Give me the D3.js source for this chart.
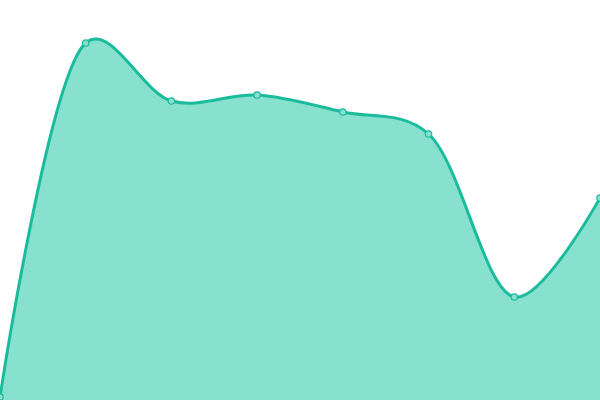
<!DOCTYPE html>
<html>
<head>
<meta charset="utf-8">
<script src="https://cdn.jsdelivr.net/npm/d3@7"></script>
<style>
  html, body { margin: 0; padding: 0; background: #fff; }
  svg { display: block; }
</style>
</head>
<body>
<svg id="chart" width="600" height="400"></svg>
<script>
// data points
const labels = ['1', '2', '3', '4', '5', '6', '7', '8'];
const values = [0.75, 89.25, 74.75, 76.25, 72, 66.5, 25.75, 50.5];

const width = 600;
const height = 400;

const svg = d3.select('#chart');

const x = d3.scalePoint().domain(labels).range([0, width]);
const y = d3.scaleLinear().domain([0, 100]).range([height, 0]);

const curve = d3.curveCatmullRom.alpha(0.3);

const area = d3
  .area()
  .x((d, i) => x(labels[i]))
  .y0(height)
  .y1((d) => y(d))
  .curve(curve);

const line = d3
  .line()
  .x((d, i) => x(labels[i]))
  .y((d) => y(d))
  .curve(curve);

svg.append('path').datum(values).attr('d', area).attr('fill', '#88e0cf');

svg
  .append('path')
  .datum(values)
  .attr('d', line)
  .attr('fill', 'none')
  .attr('stroke', '#1abc9c')
  .attr('stroke-width', 3);

svg
  .selectAll('circle.pt')
  .data(values)
  .join('circle')
  .attr('class', 'pt')
  .attr('cx', (d, i) => x(labels[i]))
  .attr('cy', (d) => y(d))
  .attr('r', 3.2)
  .attr('fill', '#88e0cf')
  .attr('stroke', '#1abc9c')
  .attr('stroke-width', 1.2);
</script>
</body>
</html>
